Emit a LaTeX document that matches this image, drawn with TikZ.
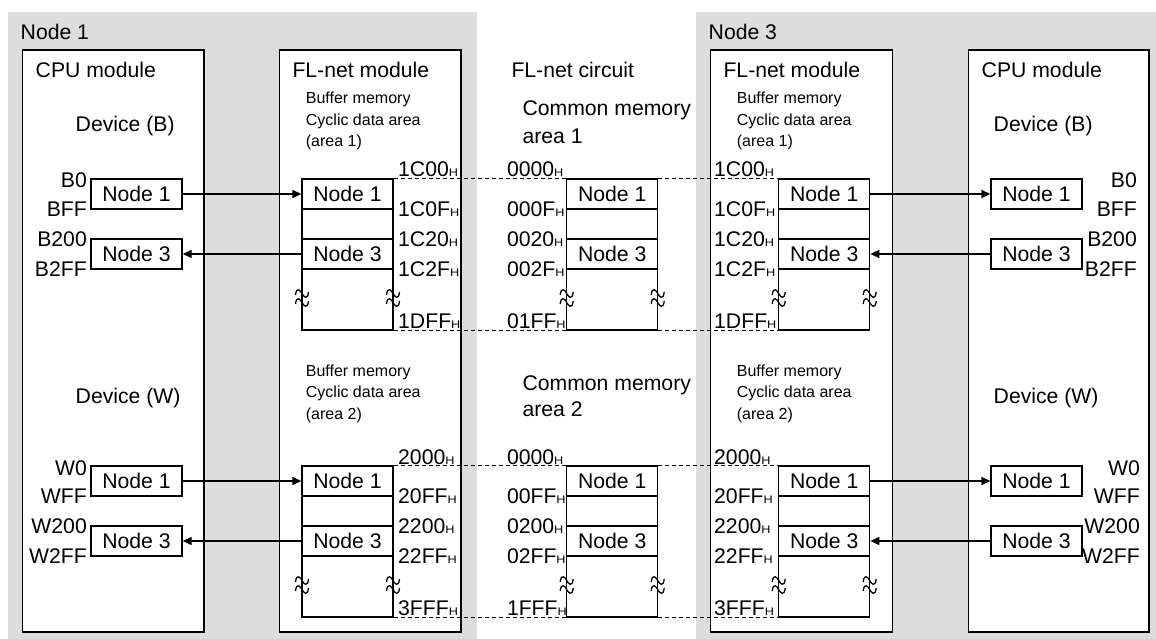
\documentclass[tikz,border=0pt]{standalone}
\usepackage{fontspec}
\setmainfont{Liberation Sans}
\usetikzlibrary{arrows.meta}
\definecolor{panelgray}{RGB}{221,221,221}
\newcommand\fsz[1]{\fontsize{#1}{#1}\selectfont}
\newcommand\hsub{\scalebox{1.15}[1]{\fsz{11}H}}
% memory column: name, center x, top y
\newcommand\memcol[3]{%
  \node[cell] (#1a) at (#2,#3+15) {Node 1};
  \node[cell] (#1b) at (#2,#3+45) {};
  \node[cell] (#1c) at (#2,#3+75) {Node 3};
  \node[cell,minimum height=61pt] (#1d) at (#2,#3+120.5) {};
  \pic at (#2-45.5,#3+119) {brk};
  \pic at (#2+45.5,#3+119) {brk};
}
% address labels: name, x, top y, five labels
\newcommand\addrs[8]{%
  \node[adrs] (#1a) at (#2,#3-2) {#4\hsub};
  \node[adrs] (#1b) at (#2,#3+37.5) {#5\hsub};
  \node[adrs] (#1c) at (#2,#3+67.5) {#6\hsub};
  \node[adrs] (#1d) at (#2,#3+97.5) {#7\hsub};
  \node[adrs] (#1e) at (#2,#3+149) {#8\hsub};
}
% cpu labels: name, x, top y, four labels
\newcommand\cpul[7]{%
  \node[big,anchor=base east] (#1a) at (#2,#3+9) {#4};
  \node[big,anchor=base east] (#1b) at (#2,#3+37.7) {#5};
  \node[big,anchor=base east] (#1c) at (#2,#3+67.7) {#6};
  \node[big,anchor=base east] (#1d) at (#2,#3+97.7) {#7};
}
\begin{document}
\begin{tikzpicture}[x=1pt,y=-1pt,
  module/.style={draw,line width=1.5pt,fill=white},
  cell/.style={draw,line width=1.3pt,fill=white,minimum width=91pt,minimum height=30pt,inner sep=0pt,font=\fsz{21.2}},
  big/.style={inner sep=0pt,font=\fsz{21.2}},
  small/.style={inner sep=0pt,font=\fsz{16},anchor=base west},
  adrs/.style={inner sep=0pt,font=\fsz{21.2},anchor=base west},
  arr/.style={line width=1.3pt,-{Triangle[length=9pt,width=8pt]}},
  dsh/.style={line width=1pt,dash pattern=on 4pt off 3pt},
  brk/.pic={
    \draw[line width=1.3pt] (-6.5,-3) .. controls (-5.5,-12) and (-1.5,-7.5) .. (0,-4.5) .. controls (1.5,-1.5) and (5.5,3) .. (6.5,-6);
    \draw[line width=1.3pt] (-6.5,6) .. controls (-5.5,-3) and (-1.5,1.5) .. (0,4.5) .. controls (1.5,7.5) and (5.5,12) .. (6.5,3);
  }]
\useasboundingbox (0,0) rectangle (1156,639);
\fill[white] (0,0) rectangle (1156,639);
% panels
\fill[panelgray] (8,12) rectangle (477,639);
\fill[panelgray] (696,12) rectangle (1156,639);
\node[big,anchor=base west] (n1title) at (20.5,40) {Node 1};
\node[big,anchor=base west] (n3title) at (708.5,40) {Node 3};
% module boxes
\draw[module] (22.7,50) rectangle (204,632);
\draw[module] (279.3,50) rectangle (461,632);
\draw[module] (710.7,50) rectangle (892.7,632);
\draw[module] (968.3,50) rectangle (1149,632);
% headings
\node[big,anchor=base west] (cpuLt) at (35.5,78) {CPU module};
\node[big,anchor=base west] (flLt) at (292.3,78) {FL-net module};
\node[big,anchor=base west] (circt) at (511.3,78) {FL-net circuit};
\node[big,anchor=base west] (flRt) at (723.3,78) {FL-net module};
\node[big,anchor=base west] (cpuRt) at (981.5,78) {CPU module};
% device labels
\node[big,anchor=base west] (devLB) at (75.5,131.5) {Device (B)};
\node[big,anchor=base west] (devRB) at (993.5,131.5) {Device (B)};
\node[big,anchor=base west] (devLW) at (75.5,403) {Device (W)};
\node[big,anchor=base west] (devRW) at (993.5,403) {Device (W)};
% buffer memory texts
\node[small] (bL1a) at (305.7,104) {Buffer memory};
\node[small] (bL1b) at (305.7,125.5) {Cyclic data area};
\node[small] (bL1c) at (305.7,147) {(area 1)};
\node[small] (bR1a) at (736.7,104) {Buffer memory};
\node[small] (bR1b) at (736.7,125.5) {Cyclic data area};
\node[small] (bR1c) at (736.7,147) {(area 1)};
\node[small] (bL2a) at (305.7,376) {Buffer memory};
\node[small] (bL2b) at (305.7,397.5) {Cyclic data area};
\node[small] (bL2c) at (305.7,419) {(area 2)};
\node[small] (bR2a) at (736.7,376) {Buffer memory};
\node[small] (bR2b) at (736.7,397.5) {Cyclic data area};
\node[small] (bR2c) at (736.7,419) {(area 2)};
% common memory texts
\node[big,anchor=base west] (cm1a) at (522.3,116) {Common memory};
\node[big,anchor=base west] (cm1b) at (522.3,143.5) {area 1};
\node[big,anchor=base west] (cm2a) at (522.3,390) {Common memory};
\node[big,anchor=base west] (cm2b) at (522.3,416.7) {area 2};
% memory columns
\memcol{L1}{347.5}{179}
\memcol{C1}{612.2}{179}
\memcol{R1}{824.2}{179}
\memcol{L2}{347.5}{466}
\memcol{C2}{612.2}{466}
\memcol{R2}{824.2}{466}
% dashed lines
\draw[dsh] (L1a.north east) -- (C1a.north west);
\draw[dsh] (C1a.north east) -- (R1a.north west);
\draw[dsh] (L1d.south east) -- (C1d.south west);
\draw[dsh] (C1d.south east) -- (R1d.south west);
\draw[dsh] (L2a.north east) -- (C2a.north west);
\draw[dsh] (C2a.north east) -- (R2a.north west);
\draw[dsh] (L2d.south east) -- (C2d.south west);
\draw[dsh] (C2d.south east) -- (R2d.south west);
% address labels
\addrs{AL1}{398}{179}{1C00}{1C0F}{1C20}{1C2F}{1DFF}
\addrs{AC1}{506.8}{179}{0000}{000F}{0020}{002F}{01FF}
\addrs{AR1}{714}{179}{1C00}{1C0F}{1C20}{1C2F}{1DFF}
\addrs{AL2}{398}{466}{2000}{20FF}{2200}{22FF}{3FFF}
\addrs{AC2}{506.8}{466}{0000}{00FF}{0200}{02FF}{1FFF}
\addrs{AR2}{714}{466}{2000}{20FF}{2200}{22FF}{3FFF}
% CPU cells
\node[cell] (PL1a) at (136.5,194) {Node 1};
\node[cell] (PL1c) at (136.5,254) {Node 3};
\node[cell] (PL2a) at (136.5,481) {Node 1};
\node[cell] (PL2c) at (136.5,541) {Node 3};
\node[cell] (PR1a) at (1036.5,194) {Node 1};
\node[cell] (PR1c) at (1036.5,254) {Node 3};
\node[cell] (PR2a) at (1036.5,481) {Node 1};
\node[cell] (PR2c) at (1036.5,541) {Node 3};
% CPU labels
\cpul{DL1}{87}{179}{B0}{BFF}{B200}{B2FF}
\cpul{DL2}{87}{466}{W0}{WFF}{W200}{W2FF}
\cpul{DR1}{1137}{179}{B0}{BFF}{B200}{B2FF}
\cpul{DR2}{1140}{466}{W0}{WFF}{W200}{W2FF}
% arrows
\draw[arr] (PL1a.east) -- (L1a.west);
\draw[arr] (L1c.west) -- (PL1c.east);
\draw[arr] (R1a.east) -- (PR1a.west);
\draw[arr] (PR1c.west) -- (R1c.east);
\draw[arr] (PL2a.east) -- (L2a.west);
\draw[arr] (L2c.west) -- (PL2c.east);
\draw[arr] (R2a.east) -- (PR2a.west);
\draw[arr] (PR2c.west) -- (R2c.east);
\end{tikzpicture}
\end{document}
